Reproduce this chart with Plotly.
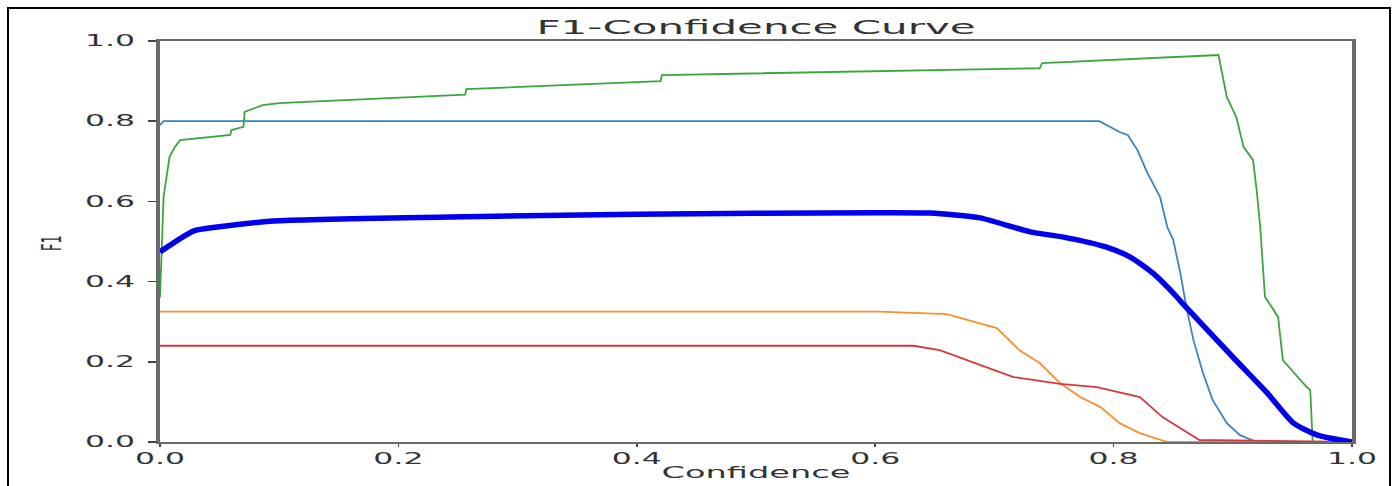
import plotly.graph_objects as go

# ---- data ----
c0_x = [0.0, 0.003, 0.788, 0.805, 0.812, 0.820, 0.828, 0.839, 0.845, 0.850, 0.856, 0.858, 0.861, 0.867, 0.875, 0.883, 0.895, 0.906, 0.920, 1.0]
c0_y = [0.79, 0.80, 0.80, 0.773, 0.765, 0.728, 0.673, 0.611, 0.536, 0.504, 0.421, 0.387, 0.337, 0.254, 0.172, 0.105, 0.047, 0.017, 0.0, 0.0]

c1_x = [0.0, 0.604, 0.660, 0.702, 0.721, 0.738, 0.755, 0.772, 0.789, 0.805, 0.822, 0.845, 1.0]
c1_y = [0.325, 0.325, 0.319, 0.284, 0.229, 0.197, 0.147, 0.112, 0.087, 0.047, 0.022, 0.0, 0.0]

c2_x = [0.0, 0.003, 0.008, 0.0126, 0.017, 0.059, 0.060, 0.070, 0.071, 0.086, 0.100, 0.256, 0.257, 0.420, 0.421,
        0.738, 0.740, 0.888, 0.895, 0.903, 0.909, 0.917, 0.920, 0.923, 0.927, 0.938, 0.942, 0.962, 0.965, 0.967, 1.0]
c2_y = [0.36, 0.611, 0.711, 0.736, 0.753, 0.766, 0.778, 0.786, 0.823, 0.840, 0.845, 0.866, 0.880, 0.900, 0.915,
        0.932, 0.945, 0.965, 0.860, 0.810, 0.736, 0.703, 0.628, 0.536, 0.362, 0.312, 0.204, 0.137, 0.130, 0.0, 0.0]

c3_x = [0.0, 0.632, 0.654, 0.688, 0.716, 0.755, 0.786, 0.822, 0.841, 0.872, 1.0]
c3_y = [0.24, 0.24, 0.229, 0.192, 0.162, 0.145, 0.137, 0.112, 0.062, 0.005, 0.0]

all_x = [0.0, 0.028, 0.048, 0.095, 0.243, 0.400, 0.604, 0.646, 0.688, 0.730, 0.758, 0.794, 0.814, 0.833, 0.853,
         0.858, 0.900, 0.929, 0.951, 0.971, 1.0]
all_y = [0.474, 0.526, 0.536, 0.551, 0.561, 0.568, 0.572, 0.571, 0.559, 0.524, 0.511, 0.486, 0.461, 0.421, 0.362,
         0.345, 0.212, 0.122, 0.047, 0.017, 0.0]

tick_vals = [0.0, 0.2, 0.4, 0.6, 0.8, 1.0]
tick_text = ["0.0", "0.2", "0.4", "0.6", "0.8", "1.0"]

FONT = "DejaVu Sans"
TXT = "#333333"
STRETCH = 2.1  # the reference image is stretched horizontally

fig = go.Figure()
thin = [(c0_x, c0_y, "#3a84bf"), (c1_x, c1_y, "#f7902a"), (c2_x, c2_y, "#3da53d"), (c3_x, c3_y, "#d43a3b")]
for xs, ys, col in thin:
    fig.add_trace(go.Scatter(x=xs, y=ys, mode="lines", line=dict(color=col, width=1.8), showlegend=False,
                             hoverinfo="skip"))
fig.add_trace(go.Scatter(x=all_x, y=all_y, mode="lines", line=dict(color="#0000ee", width=5.5, shape="spline", smoothing=0.6),
                         showlegend=False, hoverinfo="skip"))

fig.update_layout(
    width=1395, height=486,
    margin=dict(l=160, r=43, t=41, b=44),
    paper_bgcolor="white", plot_bgcolor="white",
    font=dict(family=FONT, color=TXT),
    title=dict(text="F1-Confidence Curve", x=0.5, xref="paper", y=1 - 27 / 486, yanchor="middle",
               font=dict(family=FONT, size=20, color=TXT)),
    xaxis=dict(range=[0, 1], tickvals=tick_vals, ticktext=tick_text, ticks="outside", ticklen=3, tickwidth=1.5,
               tickcolor="#444", showline=True, mirror=True, linecolor="#6a6a6a", linewidth=1.6,
               showgrid=False, zeroline=False, ticklabelstandoff=-1, tickfont=dict(size=15, family=FONT, color=TXT)),
    yaxis=dict(range=[0, 1], tickvals=tick_vals, ticktext=tick_text, ticks="outside", ticklen=8, tickwidth=1.5,
               tickcolor="#444", showline=True, mirror=True, linecolor="#6a6a6a", linewidth=4,
               showgrid=False, zeroline=False, ticklabelstandoff=10, tickfont=dict(size=15, family=FONT, color=TXT)),
    annotations=[
        dict(text="Confidence", x=0.5, y=(442 - 472) / 401, xref="paper", yref="paper", showarrow=False,
             xanchor="center", yanchor="middle", font=dict(family=FONT, size=16, color=TXT)),
        dict(text="F1", x=(52 - 160) / 1192, y=(442 - 243) / 401, xref="paper", yref="paper", showarrow=False,
             textangle=-90, xanchor="center", yanchor="middle", font=dict(family=FONT, size=13, color=TXT)),
    ],
    shapes=[dict(type="rect", xref="paper", yref="paper", x0=(8 - 160) / 1192, x1=(1390 - 160) / 1192,
                 y0=-0.3, y1=(442 - 8) / 401, line=dict(color="black", width=2))],
)

post = """
document.body.style.margin = '0';
var gd = document.getElementById('{plot_id}');
var s = %s;
gd.querySelectorAll('text').forEach(function(t){
  var b = t.getBBox();
  var tr = t.getAttribute('transform') || '';
  if (t.textContent === 'F1') {
    var cy = b.y + b.height / 2;
    t.setAttribute('transform', tr + ' translate(0,' + cy + ') scale(1,' + s + ') translate(0,' + (-cy) + ')');
    return;
  }
  var a = t.getAttribute('text-anchor') || 'start';
  var cx = b.x + b.width / 2;
  if (a === 'end') { cx = b.x + b.width; }
  else if (a === 'start') { cx = b.x; }
  t.setAttribute('transform', tr + ' translate(' + cx + ',0) scale(' + s + ',1) translate(' + (-cx) + ',0)');
});
""" % STRETCH

fig.write_html("out.html", post_script=post, config={"displayModeBar": False, "staticPlot": True})
